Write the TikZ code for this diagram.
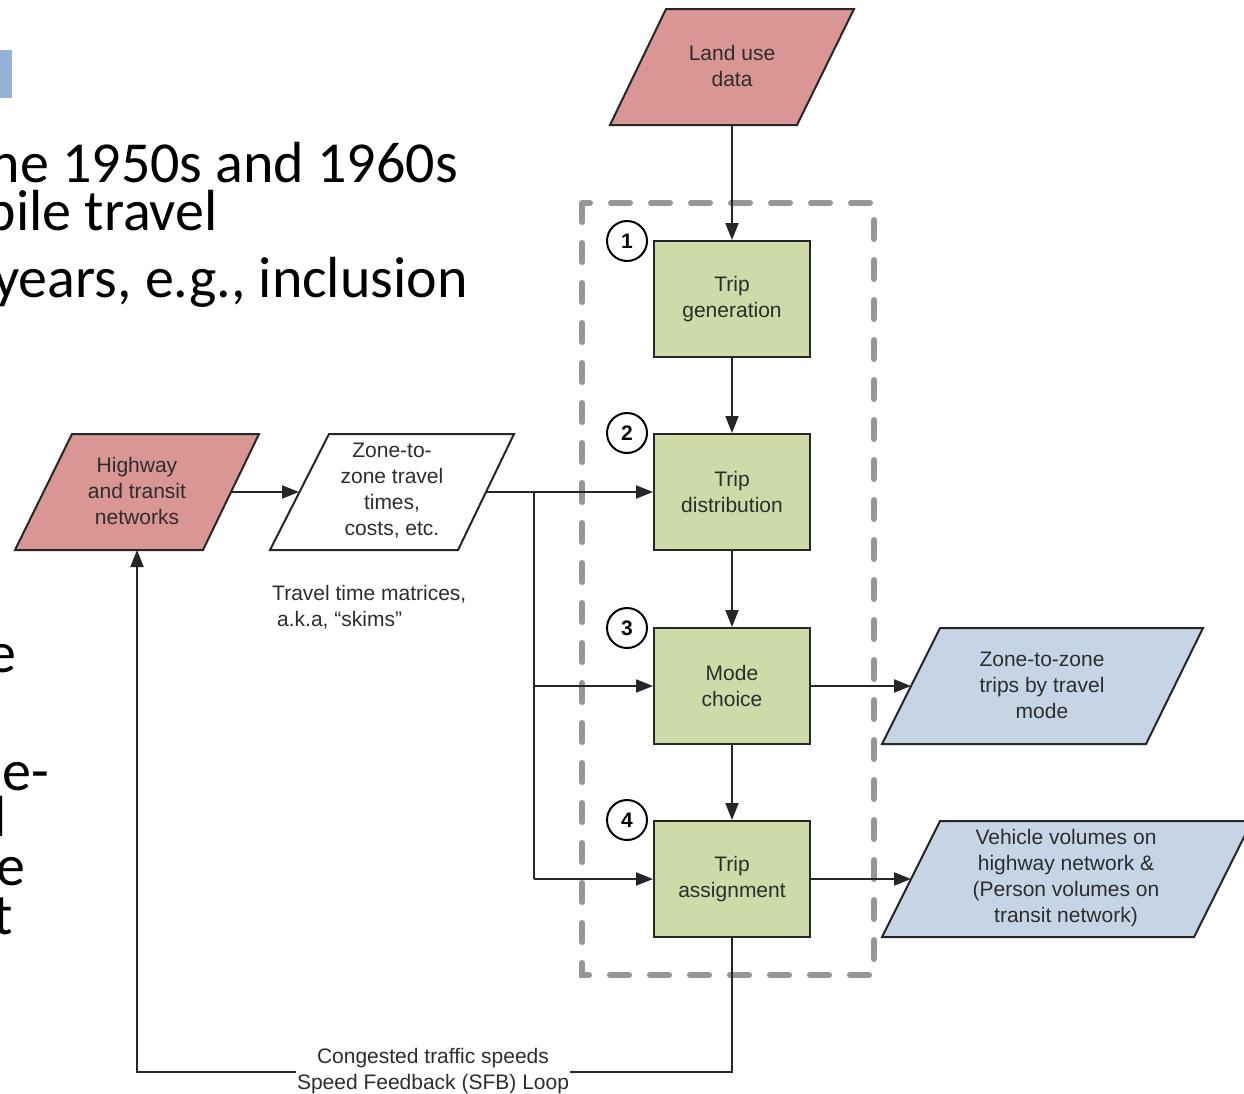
\documentclass[tikz,border=0pt]{standalone}
\usepackage{fontspec}
\setmainfont{Liberation Sans}
\newfontfamily\slidefont{Carlito}
\usetikzlibrary{arrows.meta}
\definecolor{salmon}{RGB}{217,150,148}
\definecolor{stepgreen}{RGB}{205,219,168}
\definecolor{outblue}{RGB}{198,213,230}
\definecolor{slideblue}{RGB}{149,179,215}
\definecolor{txt}{RGB}{45,45,45}
\definecolor{dashgray}{RGB}{150,150,150}
\begin{document}
\begin{tikzpicture}[x=1pt,y=-1pt,
  every node/.style={font=\fontsize{21}{26}\selectfont, text=txt, align=center, inner sep=0pt},
  stepbox/.style={draw=black!85, fill=stepgreen, line width=2pt, minimum width=156pt, minimum height=116pt},
  numcirc/.style={circle, draw=black, fill=white, line width=2pt, minimum size=40pt, font=\fontsize{21}{21}\selectfont\bfseries, text=black},
  para/.style={draw=black!85, line width=2pt},
  conn/.style={line width=2pt, draw=black!85, -{Triangle[length=17pt,width=13pt]}},
  plainline/.style={line width=2pt, draw=black!85},
  slide/.style={font=\slidefont\fontsize{58}{58}\selectfont, text=black, anchor=base east},
]
\useasboundingbox (0,0) rectangle (1244,1093);
\begin{scope}
\clip (0,0) rectangle (1244,1093);
\fill[white] (0,0) rectangle (1244,1093);

% slide background fragments
\fill[slideblue] (0,50) rectangle (12,98);
\node[slide] (s1) at (458,182) {the 1950s and 1960s};
\node[slide] (s2) at (218,230) {mobile travel};
\node[slide] (s3) at (468,297) {years, e.g., inclusion};
\node[slide] (f1) at (17,672) {e};
\node[slide] (f2) at (49,790) {e-};
\node[slide] (f3) at (7,836) {l};
\node[slide] (f4) at (26,885) {e};
\node[slide] (f5) at (13,934) {t};

% dashed model frame
\draw[dashgray, line width=6pt, line cap=round, dash pattern=on 19pt off 21pt] (582,203) rectangle (874,975);

% land use
\draw[para, fill=salmon] (666,9) -- (854,9) -- (797,125) -- (610,125) -- cycle;
\node (land) at (732,66) {Land use\\data};
\coordinate (land-s) at (732,125);

% highway
\draw[para, fill=salmon] (72,434) -- (259,434) -- (203,550) -- (15,550) -- cycle;
\node (hwy) at (137,491) {Highway\\and transit\\networks};
\coordinate (hwy-e) at (231,492);
\coordinate (hwy-s) at (137,550);

% skims
\draw[para, fill=white] (329,434) -- (514,434) -- (458,550) -- (270,550) -- cycle;
\node (skim) at (392,491) {Zone-to-\\zone travel\\times,\\costs, etc.};
\coordinate (skim-w) at (299,492);
\coordinate (skim-e) at (486,492);
\node[anchor=west, align=left] (skimlbl) at (272,607) {Travel time matrices,\\\hspace*{5pt}a.k.a, “skims”};

% outputs
\draw[para, fill=outblue] (940,628) -- (1203,628) -- (1146,744) -- (882,744) -- cycle;
\node (mout) at (1042,685) {Zone-to-zone\\trips by travel\\mode};
\coordinate (mout-w) at (911,686);
\draw[para, fill=outblue] (940,821) -- (1252,821) -- (1194,937) -- (882,937) -- cycle;
\node (aout) at (1066,878) {Vehicle volumes on\\highway network \&\\(Person volumes on\\transit network)};
\coordinate (aout-w) at (911,879);

% steps
\node[stepbox] (gen) at (732,299) {Trip\\generation};
\node[stepbox] (dist) at (732,492) {Trip\\distribution};
\node[stepbox] (mode) at (732,686) {Mode\\choice};
\node[stepbox] (assign) at (732,879) {Trip\\assignment};

\node[numcirc] (n1) at (627,241) {1};
\node[numcirc] (n2) at (627,433) {2};
\node[numcirc] (n3) at (627,628) {3};
\node[numcirc] (n4) at (627,820) {4};

% connectors
\draw[conn] (land-s) -- (gen.north);
\draw[conn] (gen.south) -- (dist.north);
\draw[conn] (dist.south) -- (mode.north);
\draw[conn] (mode.south) -- (assign.north);
\draw[conn] (hwy-e) -- (skim-w);
\draw[conn] (skim-e) -- (dist.west);
\coordinate (jn) at (534,492);
\draw[plainline] (jn) -- (jn |- assign.west);
\draw[conn] (jn |- mode.west) -- (mode.west);
\draw[conn] (jn |- assign.west) -- (assign.west);
\draw[conn] (mode.east) -- (mout-w);
\draw[conn] (assign.east) -- (aout-w);
\coordinate (fb) at (732,1072);
\draw[conn] (assign.south) -- (fb) -| (hwy-s);
\node[fill=white, inner xsep=1pt, inner ysep=2pt] (fblbl) at (433,1071) {Congested traffic speeds\\Speed Feedback (SFB) Loop};
\end{scope}
\end{tikzpicture}
\end{document}
